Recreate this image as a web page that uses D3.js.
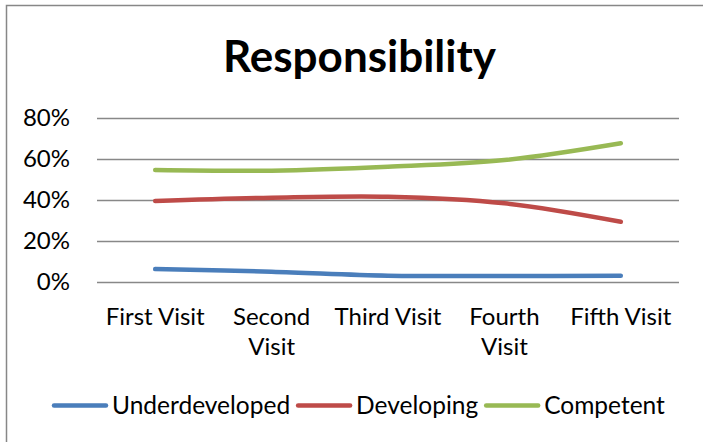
<!DOCTYPE html>
<html><head><meta charset="utf-8">
<script src="https://cdn.jsdelivr.net/npm/d3@7"></script>
<style>body{margin:0;background:#fff}svg{display:block}</style>
</head><body>
<svg id="chart" width="703" height="442"></svg>
<script>
const title = "Responsibility";
const categories = ["First Visit", "Second Visit", "Third Visit", "Fourth Visit", "Fifth Visit"];
const seriesNames = ["Underdeveloped", "Developing", "Competent"];
const underdeveloped = [0.063, 0.050, 0.031, 0.029, 0.031];
const developing = [0.395, 0.411, 0.416, 0.384, 0.294];
const competent = [0.546, 0.543, 0.562, 0.595, 0.677];
const yTicks = [0, 0.2, 0.4, 0.6, 0.8];
const colors = ["#4A7EBB", "#BE4B48", "#98B954"];

const seriesValues = [underdeveloped, developing, competent];
const series = seriesNames.map((n, i) => ({name: n, values: seriesValues[i], color: colors[i]}));

const FONT = "Lato, 'Open Sans', sans-serif";
const svg = d3.select("#chart");

// chart frame
svg.append("rect").attr("x", 6.5).attr("y", 5.5).attr("width", 760).attr("height", 500)
  .attr("fill", "#fff").attr("stroke", "#878787").attr("stroke-width", 1.5);

const plotL = 97, plotR = 679, plotT = 118, plotB = 282;
const x = d3.scaleBand().domain(categories).range([plotL, plotR]);
const y = d3.scaleLinear().domain([0, 0.8]).range([plotB, plotT]);
const cx = c => x(c) + x.bandwidth() / 2;

// title
svg.append("text").attr("x", 359.5).attr("y", 72)
  .attr("text-anchor", "middle").attr("font-family", FONT)
  .attr("font-weight", "bold").attr("font-size", 44).attr("fill", "#000")
  .text(title);

// y axis + gridlines
const yAxis = d3.axisLeft(y).tickValues(yTicks).tickFormat(d3.format(".0%"))
  .tickSize(-(plotR - plotL)).tickPadding(27);
const yg = svg.append("g").attr("transform", `translate(${plotL},0)`).call(yAxis);
yg.select(".domain").remove();
yg.selectAll(".tick line").attr("stroke", "#888").attr("stroke-width", 1.6);
yg.selectAll(".tick text").attr("font-family", FONT).attr("font-size", 24).attr("fill", "#000");

// x axis labels
const xAxis = d3.axisBottom(x).tickSize(0).tickPadding(0);
const xg = svg.append("g").attr("transform", `translate(0,${plotB})`).call(xAxis);
xg.select(".domain").remove();
xg.selectAll(".tick text").each(function(d) {
  const t = d3.select(this);
  t.text(null).attr("y", 0).attr("dy", null)
    .attr("font-family", FONT).attr("font-size", 24).attr("fill", "#000");
  const maxW = x.bandwidth() - 4;
  const words = d.split(" ");
  const lines = [];
  let cur = [];
  const probe = t.append("tspan");
  words.forEach(w => {
    const trial = cur.concat([w]).join(" ");
    probe.text(trial);
    if (cur.length && probe.node().getComputedTextLength() > maxW) {
      lines.push(cur.join(" ")); cur = [w];
    } else cur.push(w);
  });
  lines.push(cur.join(" "));
  probe.remove();
  lines.forEach((ln, i) => t.append("tspan").attr("x", 0).attr("y", 43 + i * 30).text(ln));
});

// lines
const line = d3.line().x((d, i) => cx(categories[i])).y(d => y(d))
  .curve(d3.curveCatmullRom.alpha(0.5));
svg.append("g").selectAll("path").data(series).join("path")
  .attr("d", s => line(s.values)).attr("fill", "none")
  .attr("stroke", s => s.color).attr("stroke-width", 4.5)
  .attr("stroke-linecap", "round").attr("stroke-linejoin", "round");

// legend
const lg = svg.append("g");
let lx = 52;
const ly = 405.5;
series.forEach(s => {
  lg.append("line").attr("x1", lx + 2).attr("x2", lx + 54).attr("y1", ly).attr("y2", ly)
    .attr("stroke", s.color).attr("stroke-width", 4.5).attr("stroke-linecap", "round");
  const t = lg.append("text").attr("x", lx + 60).attr("y", ly + 8.5)
    .attr("font-family", FONT).attr("font-size", 24.5).attr("fill", "#000").text(s.name);
  lx = lx + 60 + t.node().getComputedTextLength() + 6;
});
</script>
</body></html>
